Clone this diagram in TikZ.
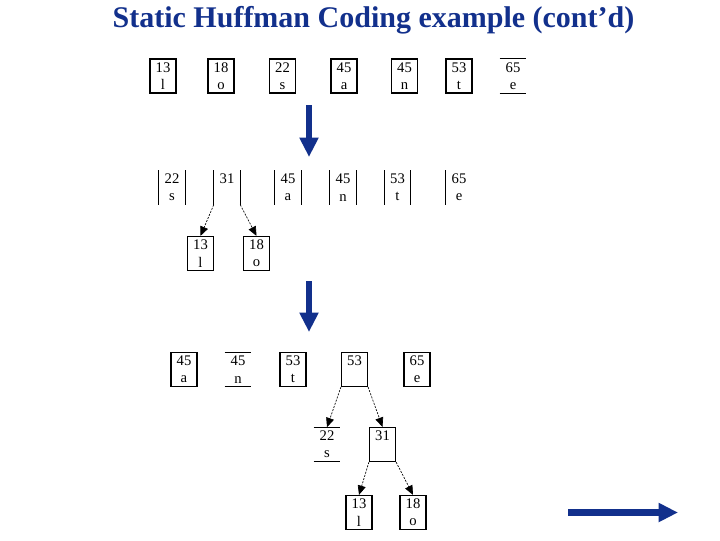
\documentclass[tikz,border=0pt]{standalone}
\usepackage{fontspec}
\setmainfont{Liberation Serif}
\usetikzlibrary{arrows.meta}
\definecolor{navy}{RGB}{18,48,140}
\begin{document}
\begin{tikzpicture}[x=0.75pt,y=-0.75pt,
  cell/.style={minimum width=19.5pt,minimum height=25.5pt,inner sep=0pt,align=center,
    font=\fontsize{11}{13}\selectfont},
  box/.style={cell,draw,line width=0.9pt},
  hbox/.style={cell,append after command={
    (\tikzlastnode.north west) edge[line width=0.9pt] (\tikzlastnode.north east)
    (\tikzlastnode.south west) edge[line width=0.9pt] (\tikzlastnode.south east)}},
  vbox/.style={cell,append after command={
    (\tikzlastnode.north west) edge[line width=0.9pt] (\tikzlastnode.south west)
    (\tikzlastnode.north east) edge[line width=0.9pt] (\tikzlastnode.south east)}},
  lbox/.style={cell,append after command={
    (\tikzlastnode.north west) edge[line width=0.9pt] (\tikzlastnode.south west)}},
  link/.style={line width=0.5pt,dash pattern=on 1.5pt off 1pt,
    -{Triangle[length=7pt,width=6pt]}},
  bigarrow/.style={navy,line width=4.8pt,-{Triangle[length=14.5pt,width=13.5pt]}},
  title/.style={font=\fontsize{22.5}{26}\selectfont\bfseries,text=navy,inner sep=0pt}
]
\useasboundingbox (0,0) rectangle (720,540);

\node[title,anchor=base] (ttl) at (373.5,27.5) {Static Huffman Coding example (cont’d)};

% Row 1
\node[box]  (a1) at (163,76)   {13\\l};
\node[box]  (a2) at (221,76)   {18\\o};
\node[box]  (a3) at (282.5,76) {22\\s};
\node[box]  (a4) at (344,76)   {45\\a};
\node[box]  (a5) at (404.5,76) {45\\n};
\node[box]  (a6) at (459,76)   {53\\t};
\node[hbox] (a7) at (513,76)   {65\\e};

% arrow 1
\coordinate (d1s) at (309,105);
\coordinate (d1e) at (309,157);
\draw[bigarrow] (d1s) -- (d1e);

% Row 2
\node[vbox] (b1) at (172,187.5)   {22\\s};
\node[vbox] (b2) at (227,187.5)   {31\\\phantom{o}};
\node[vbox] (b3) at (288,187.5)   {45\\a};
\node[vbox] (b4) at (343,187.5)   {45\\n};
\node[vbox] (b5) at (397.5,187.5) {53\\t};
\node[lbox] (b6) at (459,187.5)   {65\\e};
\node[box]  (b7) at (200.5,253.5) {13\\l};
\node[box]  (b8) at (256.5,253.5) {18\\o};
\draw[link] (b2.south west) -- (b7.north);
\draw[link] (b2.south east) -- (b8.north);

% arrow 2
\coordinate (d2s) at (309,281);
\coordinate (d2e) at (309,332);
\draw[bigarrow] (d2s) -- (d2e);

% Row 3
\node[box]  (c1) at (184,369.5)   {45\\a};
\node[hbox] (c2) at (238,369.5)   {45\\n};
\node[box]  (c3) at (293,369.5)   {53\\t};
\node[box]  (c4) at (354.5,369.5) {53\\\phantom{o}};
\node[box]  (c5) at (417,369.5)   {65\\e};
\node[hbox] (c6) at (327,444.5)   {22\\s};
\node[box]  (c7) at (382.5,444.5) {31\\\phantom{o}};
\node[box]  (c8) at (359,512.5)   {13\\l};
\node[box]  (c9) at (413,512.5)   {18\\o};
\draw[link] (c4.south west) -- (c6.north);
\draw[link] (c4.south east) -- (c7.north);
\draw[link] (c7.south west) -- (c8.north);
\draw[link] (c7.south east) -- (c9.north);

% right arrow
\coordinate (r1s) at (568,512.5);
\coordinate (r1e) at (678,512.5);
\draw[bigarrow] (r1s) -- (r1e);
\end{tikzpicture}
\end{document}
